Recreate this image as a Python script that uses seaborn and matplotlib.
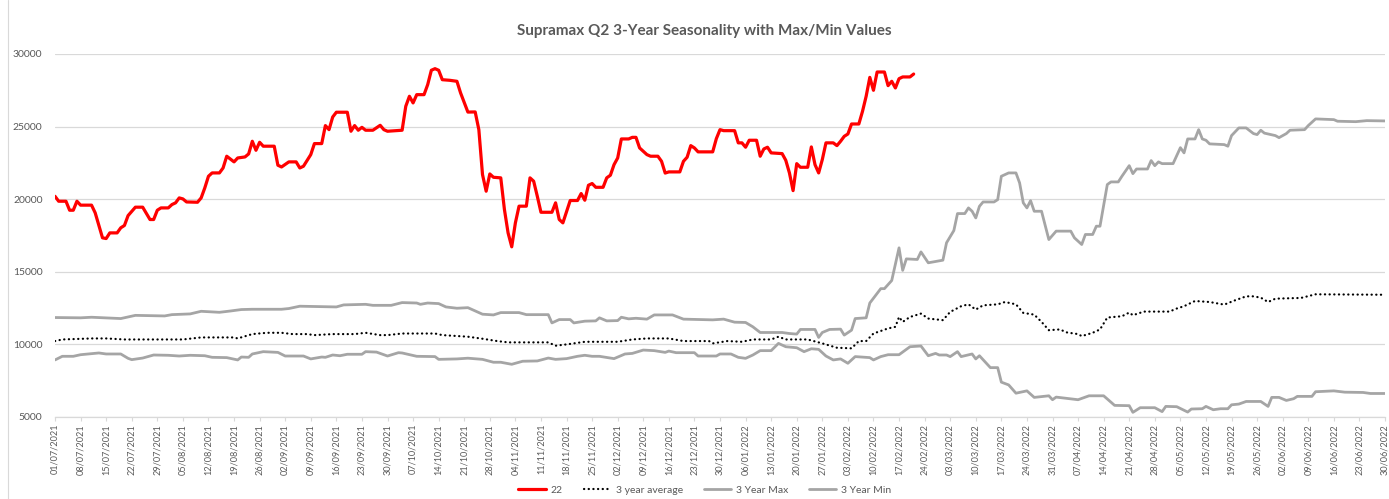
import matplotlib
import matplotlib.pyplot as plt
import matplotlib.dates as mdates
from matplotlib.lines import Line2D
import numpy as np
import pandas as pd
import seaborn as sns

# day offsets from 01/07/2021 and values
start = pd.Timestamp('2021-07-01')

days_22 = [0, 1, 3, 4, 5, 6, 7, 10, 11, 13, 14, 15, 17, 18, 19, 20, 22, 24, 26, 27,
           28, 29, 31, 32, 33, 34, 35, 36, 39, 40, 41, 42, 43, 45, 46, 47, 49, 50, 52, 53,
           54, 55, 56, 57, 60, 61, 62, 64, 66, 67, 68, 70, 71, 73, 74, 75, 76, 77, 80, 81,
           82, 83, 84, 85, 87, 89, 90, 91, 95, 96, 97, 98, 99, 101, 102, 103, 104, 105, 106, 108,
           110, 111, 113, 115, 116, 117, 118, 119, 120, 122, 123, 124, 125, 126, 127, 129, 130, 131, 132, 133,
           136, 137, 138, 139, 141, 143, 144, 145, 146, 147, 148, 150, 151, 152, 153, 154, 155, 157, 158, 159,
           160, 162, 163, 165, 166, 167, 168, 171, 172, 173, 174, 175, 176, 180, 181, 182, 183, 186, 187, 188,
           189, 190, 192, 193, 194, 195, 196, 199, 200, 201, 202, 203, 204, 206, 207, 208, 209, 210, 211, 213,
           214, 215, 216, 217, 218, 220, 221, 222, 223, 224, 225, 227, 228, 229, 230, 231, 232, 234, 235]
vals_22 = [20200, 19860, 19860, 19240, 19240, 19860, 19590, 19590, 19060, 17340, 17290, 17680, 17680, 18030, 18190, 18870, 19450, 19450, 18600, 18600,
           19240, 19400, 19400, 19630, 19750, 20090, 20020, 19810, 19790, 20090, 20780, 21580, 21810, 21810, 22150, 22960, 22570, 22840, 22910, 23120,
           23990, 23370, 23920, 23650, 23650, 22340, 22220, 22570, 22570, 22150, 22270, 23070, 23830, 23830, 25070, 24790, 25660, 25990, 25990, 24680,
           25070, 24750, 24950, 24750, 24750, 25090, 24790, 24680, 24750, 26400, 27090, 26630, 27200, 27200, 27890, 28880, 28990, 28880, 28230, 28190,
           28120, 27320, 26000, 26010, 24790, 21700, 20550, 21740, 21510, 21470, 19290, 17680, 16720, 18370, 19520, 19520, 21470, 21240, 20200, 19100,
           19100, 19750, 18600, 18370, 19910, 19910, 20390, 19930, 20960, 21080, 20820, 20820, 21470, 21650, 22380, 22840, 24150, 24150, 24260, 24260,
           23530, 23070, 22960, 22960, 22610, 21800, 21880, 21880, 22610, 22890, 23690, 23530, 23260, 23260, 24170, 24790, 24720, 24720, 23880, 23880,
           23580, 24060, 24060, 22960, 23460, 23580, 23190, 23140, 22680, 21810, 20590, 22450, 22200, 22200, 23600, 22380, 21810, 22730, 23880, 23880,
           23690, 23990, 24330, 24490, 25180, 25180, 26050, 27090, 28390, 27500, 28760, 28760, 27820, 28120, 27660, 28300, 28420, 28420, 28620]

days_avg = [0, 2, 10, 14, 19, 35, 40, 49, 50, 54, 58, 62, 65, 69, 71, 76, 82, 85, 89, 91,
            95, 104, 106, 113, 117, 121, 124, 135, 137, 140, 145, 154, 158, 162, 168, 172, 179, 180, 184, 188,
            191, 196, 198, 200, 206, 210, 214, 218, 220, 222, 224, 228, 230, 231, 232, 234, 237, 239, 243, 245,
            248, 250, 252, 254, 258, 260, 263, 265, 268, 270, 272, 275, 277, 280, 281, 284, 286, 288, 292, 294,
            295, 298, 305, 307, 309, 312, 316, 320, 323, 326, 328, 330, 332, 334, 341, 345, 364]
vals_avg = [10230, 10340, 10410, 10410, 10340, 10340, 10480, 10480, 10410, 10710, 10800, 10800, 10710, 10710, 10640, 10710, 10710, 10800, 10640, 10640,
            10750, 10750, 10640, 10530, 10390, 10230, 10140, 10140, 9910, 10000, 10180, 10180, 10340, 10410, 10410, 10230, 10230, 10070, 10230, 10180,
            10340, 10340, 10530, 10340, 10340, 10070, 9770, 9730, 10230, 10230, 10750, 11100, 11210, 11890, 11550, 11890, 12120, 11780, 11670, 12240,
            12630, 12760, 12400, 12690, 12760, 12920, 12760, 12170, 12050, 11550, 10980, 11030, 10820, 10710, 10570, 10800, 11030, 11850, 11940, 12190,
            12010, 12260, 12260, 12470, 12630, 12990, 12920, 12740, 13040, 13310, 13310, 13220, 12920, 13150, 13200, 13450, 13420]

days_max = [0, 7, 10, 18, 22, 30, 32, 37, 40, 45, 48, 51, 54, 62, 64, 67, 77, 79, 85, 87,
            92, 95, 99, 100, 102, 105, 107, 110, 113, 117, 120, 122, 127, 129, 135, 136, 138, 141, 142, 145,
            148, 149, 151, 154, 155, 157, 159, 162, 164, 169, 172, 180, 183, 186, 189, 191, 193, 199, 201, 203,
            204, 208, 209, 210, 212, 215, 216, 218, 219, 222, 223, 226, 227, 229, 231, 232, 233, 236, 237, 239,
            243, 244, 246, 247, 249, 250, 251, 252, 253, 254, 257, 258, 259, 261, 263, 264, 265, 266, 267, 268,
            270, 272, 274, 278, 279, 281, 282, 284, 285, 286, 288, 289, 291, 292, 294, 295, 296, 299, 300, 301,
            302, 303, 306, 308, 309, 310, 312, 313, 314, 315, 316, 320, 321, 322, 324, 326, 328, 329, 330, 331,
            334, 335, 337, 338, 342, 343, 345, 350, 351, 356, 359, 364]
vals_max = [11850, 11830, 11870, 11780, 12000, 11960, 12050, 12100, 12280, 12210, 12300, 12400, 12420, 12420, 12470, 12630, 12580, 12720, 12760, 12690,
            12690, 12880, 12850, 12760, 12850, 12810, 12580, 12490, 12530, 12080, 12030, 12190, 12190, 12050, 12050, 11480, 11710, 11710, 11480, 11600,
            11620, 11830, 11620, 11640, 11870, 11760, 11800, 11740, 12030, 12030, 11740, 11690, 11740, 11530, 11510, 11210, 10820, 10820, 10750, 10710,
            11030, 11030, 10480, 10820, 11030, 11050, 10640, 10980, 11780, 11830, 12850, 13840, 13840, 14400, 16650, 15100, 15890, 15850, 16370, 15620,
            15800, 17000, 17840, 19010, 19010, 19400, 19170, 18710, 19510, 19810, 19810, 19970, 21580, 21810, 21810, 21120, 19750, 19400, 19900, 19170,
            19170, 17220, 17800, 17800, 17340, 16880, 17570, 17570, 18140, 18140, 21010, 21190, 21190, 21580, 22310, 21760, 22080, 22080, 22660, 22310,
            22570, 22450, 22450, 23550, 23190, 24150, 24150, 24790, 24150, 24060, 23810, 23760, 23650, 24380, 24910, 24910, 24520, 24450, 24750, 24550,
            24380, 24240, 24520, 24750, 24790, 25070, 25530, 25480, 25370, 25340, 25410, 25390]

days_min = [0, 2, 5, 7, 12, 14, 18, 20, 21, 24, 27, 31, 34, 37, 41, 43, 47, 50, 51, 53,
            54, 57, 61, 63, 68, 70, 73, 74, 76, 78, 80, 84, 85, 88, 91, 94, 95, 99, 104, 105,
            110, 113, 117, 120, 122, 125, 128, 132, 135, 137, 140, 143, 145, 147, 149, 153, 156, 158, 161, 164,
            167, 168, 170, 175, 176, 181, 182, 185, 187, 189, 191, 193, 196, 198, 200, 203, 205, 207, 209, 211,
            213, 215, 217, 219, 223, 224, 226, 228, 231, 234, 237, 239, 241, 242, 244, 245, 247, 248, 251, 252,
            253, 256, 258, 259, 261, 263, 266, 268, 272, 273, 274, 277, 280, 283, 287, 290, 294, 295, 297, 301,
            303, 304, 307, 310, 311, 314, 315, 317, 319, 321, 322, 324, 326, 330, 332, 333, 335, 337, 339, 340,
            344, 345, 350, 353, 358, 360, 364]
vals_min = [8930, 9180, 9180, 9290, 9410, 9340, 9340, 9040, 8950, 9060, 9270, 9250, 9200, 9250, 9220, 9110, 9090, 8930, 9130, 9110,
            9340, 9500, 9450, 9200, 9200, 9000, 9130, 9110, 9270, 9220, 9320, 9320, 9500, 9470, 9200, 9430, 9410, 9180, 9160, 8970,
            9000, 9050, 8970, 8770, 8770, 8630, 8840, 8860, 9060, 8970, 9020, 9180, 9250, 9180, 9180, 9020, 9340, 9380, 9610, 9570,
            9450, 9540, 9430, 9430, 9200, 9200, 9340, 9340, 9110, 9040, 9270, 9570, 9570, 10070, 9840, 9770, 9500, 9700, 9660, 9200,
            8930, 9000, 8700, 9160, 9090, 8930, 9160, 9290, 9290, 9840, 9890, 9220, 9380, 9270, 9270, 9160, 9500, 9160, 9340, 9000,
            9220, 8400, 8400, 7400, 7210, 6640, 6800, 6350, 6460, 6190, 6370, 6280, 6190, 6460, 6460, 5800, 5780, 5320, 5640, 5640,
            5370, 5730, 5710, 5340, 5550, 5570, 5730, 5500, 5570, 5570, 5840, 5890, 6070, 6070, 5730, 6350, 6350, 6140, 6260, 6420,
            6420, 6740, 6800, 6710, 6690, 6620, 6620]

series = [
    ('22', days_22, vals_22),
    ('3 year average', days_avg, vals_avg),
    ('3 Year Max', days_max, vals_max),
    ('3 Year Min', days_min, vals_min),
]

frames = []
for name, d, v in series:
    frames.append(pd.DataFrame({'date': start + pd.to_timedelta(d, unit='D'),
                                'value': v, 'series': name}))
df = pd.concat(frames, ignore_index=True)

sns.set_theme(style='white')
plt.rcParams['font.family'] = ['Lato', 'DejaVu Sans']

grey_txt = '#595959'
fig = plt.figure(figsize=(13.89, 4.99), dpi=100)
ax = fig.add_axes([55 / 1389, 1 - 417 / 499, (1385 - 55) / 1389, (417 - 54) / 499])

styles = {
    '22': dict(color='#FF0000', linewidth=2.3),
    '3 year average': dict(color='black', linewidth=1.6, linestyle=(0, (0.1, 2.0)),
                           dash_capstyle='round'),
    '3 Year Max': dict(color='#A5A5A5', linewidth=2.0),
    '3 Year Min': dict(color='#A5A5A5', linewidth=2.0),
}
for name in ['3 Year Max', '3 Year Min', '3 year average', '22']:
    sub = df[df['series'] == name]
    sns.lineplot(data=sub, x='date', y='value', ax=ax, errorbar=None,
                 label=name, **styles[name])

ax.set_xlim(pd.Timestamp('2021-07-01'), pd.Timestamp('2022-06-30'))
ax.set_ylim(5000, 30000)
ax.set_yticks(range(5000, 30001, 5000))
ax.set_xticks(pd.date_range('2021-07-01', '2022-06-30', freq='7D'))
ax.xaxis.set_major_formatter(mdates.DateFormatter('%d/%m/%Y'))
ax.set_xlabel('')
ax.set_ylabel('')
ax.grid(axis='y', color='#D9D9D9', linewidth=0.9)
ax.set_axisbelow(True)
for s in ['top', 'right', 'left']:
    ax.spines[s].set_visible(False)
ax.spines['bottom'].set_color('#D9D9D9')
ax.spines['bottom'].set_linewidth(0.9)
ax.tick_params(axis='x', rotation=90, labelsize=6.6, colors=grey_txt,
               length=3, width=0.8, color='#D9D9D9', pad=2, bottom=True)
ax.tick_params(axis='y', labelsize=7.5, colors=grey_txt, length=0, pad=9)

fig.suptitle('Supramax Q2 3-Year Seasonality with Max/Min Values', x=704 / 1389,
             y=1 - 31 / 499, va='center', fontsize=11, fontweight='bold', color=grey_txt)

ax.get_legend().remove()
handles = [Line2D([], [], **styles[n]) for n, _, _ in series]
fig.legend(handles, [n for n, _, _ in series], loc='center', ncol=4,
           bbox_to_anchor=(705 / 1389, 1 - 490 / 499), frameon=False,
           fontsize=7.5, labelcolor=grey_txt, handlelength=2.6, columnspacing=2.0,
           handletextpad=0.5)

fig.add_artist(Line2D([8 / 1389, 8 / 1389], [0, 1], color='#D9D9D9', linewidth=0.8))

fig.savefig('out.png', dpi=100)
